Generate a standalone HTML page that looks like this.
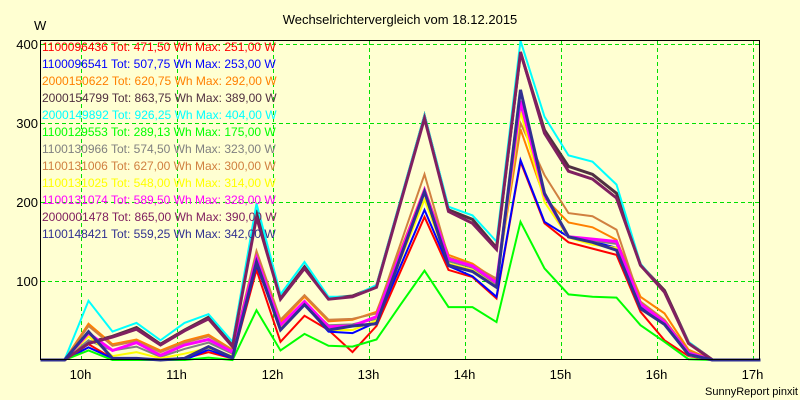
<!DOCTYPE html>
<html><head><meta charset="utf-8"><style>
html,body{margin:0;padding:0;background:#ffffd2;}
svg{display:block;font-family:"Liberation Sans",Arial,sans-serif;}
</style></head><body>
<svg id="chart" width="800" height="400" viewBox="0 0 800 400">
<rect x="0" y="0" width="800" height="400" fill="#ffffd2"/>
<text x="400" y="24" text-anchor="middle" font-size="13" fill="#000">Wechselrichtervergleich vom 18.12.2015</text>
<text x="34" y="30" font-size="13" fill="#000">W</text>
<g id="grid"></g>
<g id="series"></g>
<rect x="40.5" y="40.5" width="719" height="319" fill="none" stroke="#000" stroke-width="1"/>
<g id="axes"></g>
<g id="legend"></g>
<text x="798" y="395" text-anchor="end" font-size="11" fill="#000">SunnyReport pinxit</text>
</svg>
<script>
const times = ["9:35","9:50","10:05","10:20","10:35","10:50","11:05","11:20","11:35","11:50","12:05","12:20","12:35","12:50","13:05","13:20","13:35","13:50","14:05","14:20","14:35","14:50","15:05","15:20","15:35","15:50","16:05","16:20","16:35","16:50","17:05"];
const yTicks = [100,200,300,400];
const hourTicks = [10,11,12,13,14,15,16,17];
const names = ["1100096436","1100096541","2000150622","2000154799","2000149892","1100129553","1100130966","1100131006","1100131025","1100131074","2000001478","1100148421"];
const totals = ["471,50","507,75","620,75","863,75","926,25","289,13","574,50","627,00","548,00","589,50","865,00","559,25"];
const maxima = ["251,00","253,00","292,00","389,00","404,00","175,00","323,00","300,00","314,00","328,00","390,00","342,00"];
const colors = ["#ff0000","#0000ff","#ff8000","#503040","#00ffff","#00ff00","#808080","#d08040","#ffff00","#ff00ff","#802060","#303090"];
const widths = [2,2,2,3,2,2,2,2,2,3,3,3];
const sRed =     [0,0,20,2,2,0,2,10,2,114,23,56,38,10,43,112,181,114,105,78,251,173,149,141,133,61,25,5,0,0,0];
const sBlue =    [0,0,16,2,2,0,0,13,2,120,40,70,36,34,48,119,190,119,106,80,253,175,156,150,142,67,46,6,0,0,0];
const sOrange =  [0,0,46,20,26,12,24,32,13,133,48,80,49,51,61,139,217,133,122,101,292,205,174,168,152,80,59,13,0,0,0];
const sDark =    [0,0,22,30,41,20,38,54,18,190,78,118,78,81,93,200,308,190,178,142,389,291,245,235,211,120,88,22,0,0,0];
const sCyan =    [0,0,75,36,47,25,47,58,23,198,83,124,80,80,95,203,310,194,183,150,404,308,259,251,222,122,86,23,0,0,0];
const sGreen =   [0,0,12,0,0,0,0,3,0,63,12,33,18,17,26,70,113,67,67,48,175,116,83,80,79,44,23,1,0,0,0];
const sGray =    [0,0,25,12,17,4,14,22,8,128,42,72,44,45,52,133,215,125,117,95,323,208,156,151,147,70,47,7,0,0,0];
const sPeru =    [0,0,43,18,24,10,22,30,12,138,51,82,51,52,59,147,235,130,120,103,300,234,186,182,165,74,51,11,0,0,0];
const sYellow =  [0,0,30,5,10,2,8,15,5,124,40,70,38,38,50,127,203,122,114,93,314,200,155,146,142,65,45,6,0,0,0];
const sMagenta = [0,0,34,12,22,6,19,26,10,129,44,74,42,43,55,135,215,128,119,98,328,209,156,153,150,71,48,9,0,0,0];
const sPurple =  [0,0,21,29,39,19,37,52,17,181,77,116,77,80,92,199,306,188,173,140,390,287,239,229,205,120,86,21,0,0,0];
const sNavy =    [0,0,36,2,2,0,2,17,3,124,38,70,38,43,46,130,213,120,112,92,342,211,156,149,139,65,45,7,0,0,0];
const seriesList = [sRed,sBlue,sOrange,sDark,sCyan,sGreen,sGray,sPeru,sYellow,sMagenta,sPurple,sNavy];

const NS = "http://www.w3.org/2000/svg";
function xScale(h){ return 80.5 + (h - 10) * 96; }
function yScale(v){ return 360 - v * 0.79; }
function parseT(t){ const p = t.split(":"); return +p[0] + (+p[1]) / 60; }

const grid = document.getElementById("grid");
yTicks.forEach(v => {
  const l = document.createElementNS(NS, "line");
  l.setAttribute("x1", 41); l.setAttribute("x2", 760);
  l.setAttribute("y1", Math.round(yScale(v)) + 0.5); l.setAttribute("y2", Math.round(yScale(v)) + 0.5);
  l.setAttribute("stroke", "#00e000"); l.setAttribute("stroke-dasharray", "4,3");
  
  
  grid.appendChild(l);
});
hourTicks.forEach(h => {
  const l = document.createElementNS(NS, "line");
  const x = Math.round(xScale(h)) + 0.5;
  l.setAttribute("x1", x); l.setAttribute("x2", x);
  l.setAttribute("y1", 41); l.setAttribute("y2", 360);
  l.setAttribute("stroke", "#00e000"); l.setAttribute("stroke-dasharray", "4,3");
  
  
  grid.appendChild(l);
});

const axes = document.getElementById("axes");
yTicks.forEach(v => {
  const t = document.createElementNS(NS, "text");
  t.setAttribute("x", 38); t.setAttribute("y", yScale(v) + 5);
  t.setAttribute("text-anchor", "end"); t.setAttribute("font-size", "13");
  t.textContent = v;
  
  
  axes.appendChild(t);
});
hourTicks.forEach(h => {
  const t = document.createElementNS(NS, "text");
  t.setAttribute("x", xScale(h)); t.setAttribute("y", 379);
  t.setAttribute("text-anchor", "middle"); t.setAttribute("font-size", "13");
  t.textContent = h + "h";
  
  
  axes.appendChild(t);
});

const sg = document.getElementById("series");
seriesList.forEach((arr, k) => {
  const pts = arr.map((v, i) => xScale(parseT(times[i])).toFixed(1) + "," + yScale(v).toFixed(1)).join(" ");
  const p = document.createElementNS(NS, "polyline");
  p.setAttribute("points", pts);
  p.setAttribute("fill", "none");
  p.setAttribute("stroke", colors[k]);
  p.setAttribute("stroke-width", widths[k]);
  p.setAttribute("stroke-linejoin", "miter");
  
  
  sg.appendChild(p);
});

const lg = document.getElementById("legend");
names.forEach((n, k) => {
  const t = document.createElementNS(NS, "text");
  t.setAttribute("x", 42); t.setAttribute("y", 51 + k * 17);
  t.setAttribute("font-size", "12"); t.setAttribute("fill", colors[k]);
  t.textContent = n + " Tot: " + totals[k] + " Wh Max: " + maxima[k] + " W";
  
  
  lg.appendChild(t);
});
</script>
</body></html>
